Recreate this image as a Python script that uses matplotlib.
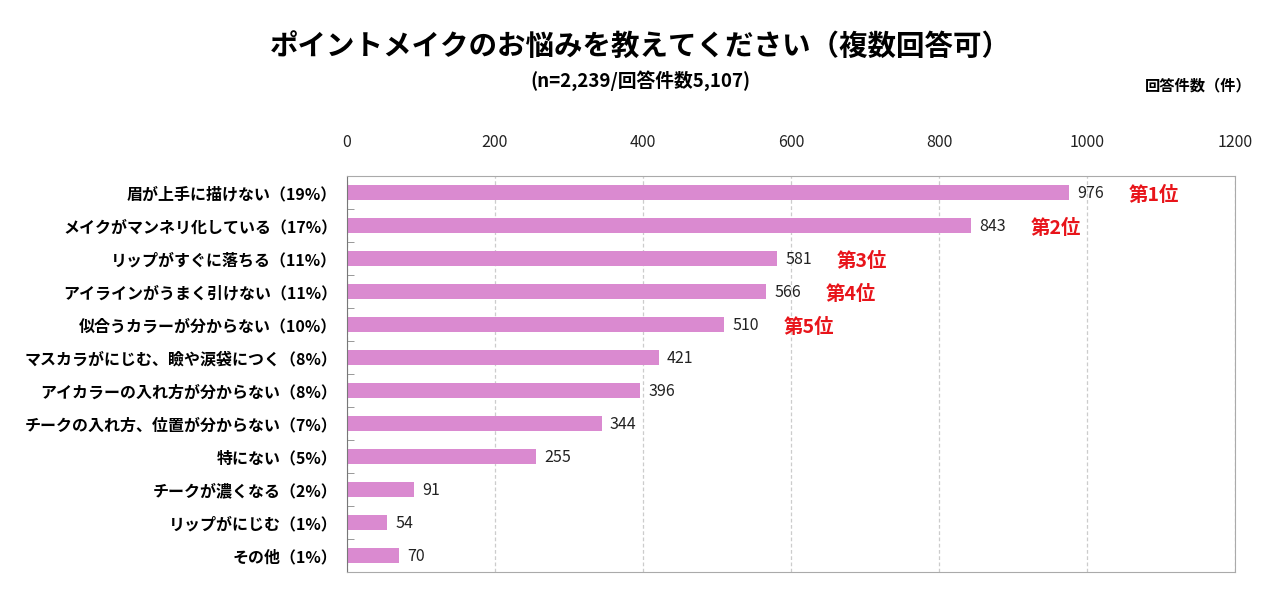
import matplotlib
matplotlib.use('Agg')
import matplotlib.pyplot as plt
import numpy as np

plt.rcParams['font.family'] = ['Noto Sans CJK JP', 'DejaVu Sans']

# data
categories = ['眉が上手に描けない（19%）', 'メイクがマンネリ化している（17%）',
              'リップがすぐに落ちる（11%）', 'アイラインがうまく引けない（11%）',
              '似合うカラーが分からない（10%）', 'マスカラがにじむ、瞼や涙袋につく（8%）',
              'アイカラーの入れ方が分からない（8%）', 'チークの入れ方、位置が分からない（7%）',
              '特にない（5%）', 'チークが濃くなる（2%）', 'リップがにじむ（1%）', 'その他（1%）']
counts = [976, 843, 581, 566, 510, 421, 396, 344, 255, 91, 54, 70]
ranks = ['第1位', '第2位', '第3位', '第4位', '第5位']
xticks = [0, 200, 400, 600, 800, 1000, 1200]

fig = plt.figure(figsize=(12.8, 5.98), dpi=100)
ax = fig.add_axes([0.2711, 0.0435, 0.9648 - 0.2711, 0.7057 - 0.0435])

y = np.arange(len(categories))
ax.barh(y, counts, height=0.45, color='#DA8AD0', zorder=2)
ax.set_ylim(len(categories) - 0.5, -0.5)
ax.set_xlim(0, 1200)
ax.set_xticks(xticks)
ax.xaxis.tick_top()
ax.tick_params(axis='x', length=0, pad=18, labelsize=11.5, colors='#222222')
ax.set_yticks(y)
ax.set_yticklabels(categories, fontsize=11.5, fontweight='bold')
ax.tick_params(axis='y', length=0, pad=7)
ax.set_yticks(np.arange(len(categories) + 1) - 0.5, minor=True)
ax.tick_params(axis='y', which='minor', direction='in', length=5, color='#888888')
ax.grid(axis='x', linestyle=(0, (3, 2)), color='#cccccc', linewidth=0.9, zorder=0)

for s in ['top', 'right', 'bottom']:
    ax.spines[s].set_color('#aaaaaa')
ax.spines['left'].set_color('#777777')

for i, v in enumerate(counts):
    ax.annotate(str(v), (v, i), xytext=(6, -1), textcoords='offset points',
                va='center', ha='left', fontsize=11.5, color='#222222')
for i, r in enumerate(ranks):
    ax.annotate(r, (counts[i], i), xytext=(43, -2), textcoords='offset points',
                va='center', ha='left', fontsize=14, fontweight='bold', color='#e8141a')

fig.text(0.5, 0.922, 'ポイントメイクのお悩みを教えてください（複数回答可）',
         ha='center', va='center', fontsize=20.5, fontweight='bold')
fig.text(0.5, 0.866, '(n=2,239/回答件数5,107)', ha='center', va='center',
         fontsize=13.5, fontweight='bold')
fig.text(0.936, 0.857, '回答件数（件）', ha='center', va='center',
         fontsize=11, fontweight='bold')

fig.savefig('out.png', dpi=100)
